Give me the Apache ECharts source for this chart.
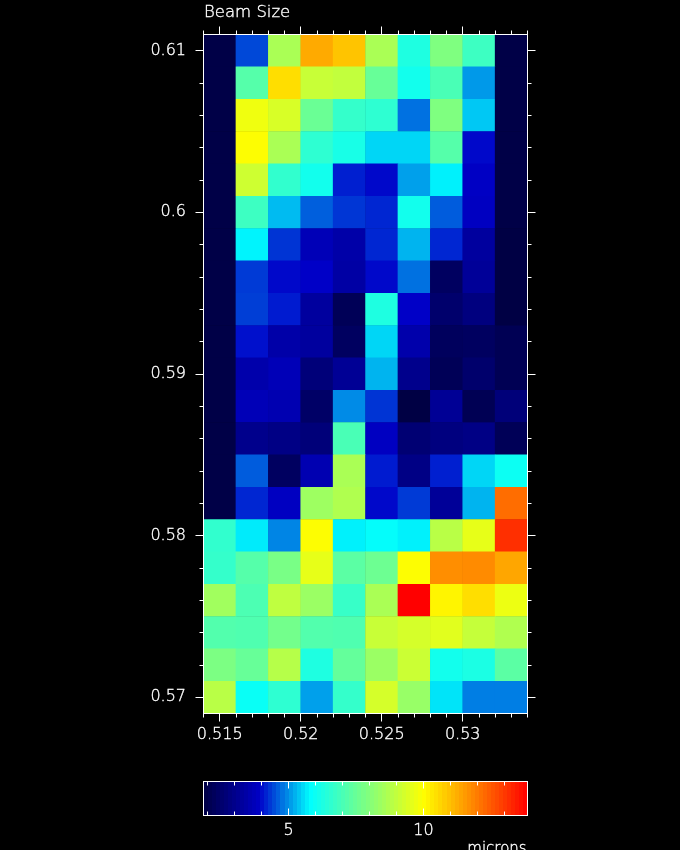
<!DOCTYPE html>
<html>
<head>
<meta charset="utf-8">
<style>html,body{margin:0;padding:0;background:#000}#c{width:680px;height:850px}</style>
<script src="https://cdn.jsdelivr.net/npm/echarts@6/dist/echarts.min.js"></script>
</head>
<body>
<div id="c"></div>
<script>
const xCenters = ['0.515','0.517','0.519','0.521','0.523','0.525','0.527','0.529','0.531','0.533'];
const yCenters = ['0.61','0.608','0.606','0.604','0.602','0.6','0.598','0.596','0.594','0.592','0.59','0.588','0.586','0.584','0.582','0.58','0.578','0.576','0.574','0.572','0.57'];
// Beam size in microns, one row per y centre, top row first
const beamSize = [
  [1.9,4.45,8.6,11.28,10.9,8.6,6.3,7.9,6.8,1.9],
  [1.9,7.2,10.5,9.1,9.0,7.5,6.1,7.0,5.05,1.9],
  [1.9,9.75,9.35,7.55,6.65,6.55,4.75,7.9,5.4,1.9],
  [1.9,10,8.6,6.55,6.2,5.5,5.5,7.2,4.0,1.9],
  [1.9,9.2,6.6,6.1,4.15,4.0,5.1,5.7,3.9,1.9],
  [1.9,6.8,5.3,4.62,4.32,4.2,6.1,4.6,3.85,1.9],
  [1.9,5.72,4.3,3.7,3.45,4.2,5.25,4.2,3.3,1.85],
  [1.9,4.35,4.0,3.95,3.4,4.0,4.75,2.3,3.2,1.85],
  [1.9,4.38,4.12,3.3,2.15,6.3,3.95,2.5,2.8,1.85],
  [1.9,4.05,3.45,3.3,2.3,5.5,3.5,2.25,2.3,2.1],
  [1.9,3.5,3.7,2.7,3.15,5.25,3.0,2.15,2.5,2.1],
  [1.9,3.7,3.6,2.4,4.95,4.3,1.85,3.15,2.1,2.7],
  [1.9,3.0,2.9,2.7,7.0,3.85,2.6,2.8,2.9,2.15],
  [1.9,4.6,2.3,3.6,8.6,4.12,2.9,4.15,5.5,6.0],
  [1.9,4.2,3.85,8.4,8.7,4.0,4.35,3.2,5.25,12.2],
  [6.6,5.65,4.9,10,5.7,5.85,5.7,8.85,9.6,13.15],
  [6.65,7.2,7.8,9.6,7.3,7.6,10,11.7,11.75,11.35],
  [8.45,7.05,8.95,8.35,6.7,8.6,13.85,10.15,10.5,9.7],
  [7.15,7.1,7.7,7.15,7.1,9.1,9.3,9.5,9.05,8.7],
  [7.85,7.5,8.8,6.3,7.45,8.35,9.15,6.1,6.25,7.3],
  [8.85,5.95,6.55,5.1,6.65,9.3,8.3,5.6,4.85,4.85]
];
const xMajor = [0.515,0.52,0.525,0.53];
const xMinor = [0.514,0.515,0.516,0.517,0.518,0.519,0.52,0.521,0.522,0.523,0.524,0.525,0.526,0.527,0.528,0.529,0.53,0.531,0.532,0.533,0.534];
const yMajor = [0.57,0.58,0.59,0.6,0.61];
const yMinor = [0.57,0.572,0.574,0.576,0.578,0.58,0.582,0.584,0.586,0.588,0.59,0.592,0.594,0.596,0.598,0.6,0.602,0.604,0.606,0.608,0.61];
const barMajor = [5,10];
const barMinor = [2,3,4,5,6,7,8,9,10,11,12,13];
// Lower edges of the colour bar's steps
const barLevels = [1.85,2,2.15,2.3,2.45,2.6,2.75,2.9,3.05,3.2,3.35,3.5,3.65,3.8,3.95,4.1,4.25,4.4,4.55,4.7,4.85,5,5.15,5.3,5.45,5.6,5.75,5.9,6.05,6.2,6.35,6.5,6.65,6.8,6.95,7.1,7.25,7.4,7.55,7.7,7.85,8,8.15,8.3,8.45,8.6,8.75,8.9,9.05,9.2,9.35,9.5,9.65,9.8,9.95,10.1,10.25,10.4,10.55,10.7,10.85,11,11.15,11.3,11.45,11.6,11.75,11.9,12.05,12.2,12.35,12.5,12.65,12.8,12.95,13.1,13.25,13.4,13.55,13.7];
const barStep = 0.15;
const valueMin = 1.85, valueMax = 13.85;
const stopValues = [1.85,4.0,4.01,5.8,10,13.85];
const stopColors = [[0,0,68],[0,0,202],[0,12,204],[0,255,255],[255,255,0],[255,0,0]];

function palette(v){
  let i = 0;
  while (i < stopValues.length - 2 && v > stopValues[i+1]) i++;
  const t = Math.max(0, Math.min(1, (v - stopValues[i]) / (stopValues[i+1] - stopValues[i])));
  const c = stopColors[i].map((a,k)=>Math.round(a + (stopColors[i+1][k]-a)*t));
  return 'rgb('+c.join(',')+')';
}

const FONT = '"DejaVu Sans"';
const W = '#fff';
const L = {left:203.5, width:324};
const heatData = [];
beamSize.forEach((row,j)=>row.forEach((v,i)=>heatData.push([i,j,v])));
const textLook = {color:W, fontFamily:FONT, fontWeight:200, textBorderColor:W, textBorderWidth:0.35};

function valAxis(gridIndex, position, min, max, ticks, len, inside, labels, extra){
  return Object.assign({
    type:'value', gridIndex, position, min, max, z:6,
    splitLine:{show:false},
    axisLine:{show:true, onZero:false, lineStyle:{color:W, width:1}},
    axisTick:{show:true, inside:!!inside, length:len, customValues:ticks, lineStyle:{color:W, width:1}},
    axisLabel: labels ? Object.assign({show:true, customValues:labels, fontSize:16, formatter:v=>String(v), hideOverlap:false, showMinLabel:true, showMaxLabel:true}, textLook, extra||{}) : {show:false}
  });
}

const xAxes = [
  {type:'category', gridIndex:0, data:xCenters, show:false},
  valAxis(0,'bottom',0.514,0.534,xMajor,8,false,xMajor,{margin:13}),
  valAxis(0,'bottom',0.514,0.534,xMinor,4,false,null),
  valAxis(0,'top',0.514,0.534,xMajor,8,false,null),
  valAxis(0,'top',0.514,0.534,xMinor,4,false,null),
  valAxis(1,'top',valueMin,valueMax,barMajor,7,true,null),
  valAxis(1,'top',valueMin,valueMax,barMinor,4,true,null),
  valAxis(1,'bottom',valueMin,valueMax,barMajor,7,true,barMajor,{margin:7}),
  valAxis(1,'bottom',valueMin,valueMax,barMinor,4,true,null)
];
const yAxes = [
  {type:'category', gridIndex:0, data:yCenters, inverse:true, show:false},
  valAxis(0,'left',0.569,0.611,yMajor,8,false,yMajor,{margin:17.5, align:'right'}),
  valAxis(0,'left',0.569,0.611,yMinor,4,false,null),
  valAxis(0,'right',0.569,0.611,yMajor,8,false,null),
  valAxis(0,'right',0.569,0.611,yMinor,4,false,null),
  {type:'value', gridIndex:1, position:'left', min:0, max:1, z:6, splitLine:{show:false}, axisTick:{show:false}, axisLabel:{show:false}, axisLine:{show:true, onZero:false, lineStyle:{color:W,width:1}}},
  {type:'value', gridIndex:1, position:'right', min:0, max:1, z:6, splitLine:{show:false}, axisTick:{show:false}, axisLabel:{show:false}, axisLine:{show:true, onZero:false, lineStyle:{color:W,width:1}}}
];

const chart = echarts.init(document.getElementById('c'), null, {renderer:'canvas', width:680, height:850});
chart.setOption({
  animation:false,
  backgroundColor:'#000',
  title:[
    {text:'Beam Size', left:204, top:4, padding:0, textStyle:Object.assign({fontSize:16.5}, textLook)},
    {text:'microns', right:153, top:842, padding:0, textStyle:Object.assign({fontSize:15}, textLook)}
  ],
  grid:[
    {left:L.left, width:L.width, top:34.5, height:679, containLabel:false},
    {left:L.left, width:L.width, top:781.5, height:34, containLabel:false}
  ],
  xAxis:xAxes,
  yAxis:yAxes,
  visualMap:{
    show:false, type:'continuous', seriesIndex:0, dimension:2,
    min:valueMin, max:valueMax,
    inRange:{color:barLevels.concat([valueMax]).map(palette)}
  },
  series:[
    {type:'heatmap', xAxisIndex:0, yAxisIndex:0, data:heatData, progressive:0, emphasis:{disabled:true}, itemStyle:{borderWidth:0}},
    {type:'custom', xAxisIndex:5, yAxisIndex:5, data:barLevels.map(v=>[v]), silent:true, clip:true,
     encode:{x:0},
     renderItem:(p,api)=>{
       const lo = api.value(0);
       const a = api.coord([lo,1]);
       const b = api.coord([lo+barStep,0]);
       const x0 = Math.round(a[0]), x1 = Math.round(b[0]);
       return {type:'rect', shape:{x:x0, y:a[1], width:x1-x0, height:b[1]-a[1]}, style:{fill:palette(lo+barStep/2), stroke:null}};
     }}
  ]
});
</script>
</body>
</html>
